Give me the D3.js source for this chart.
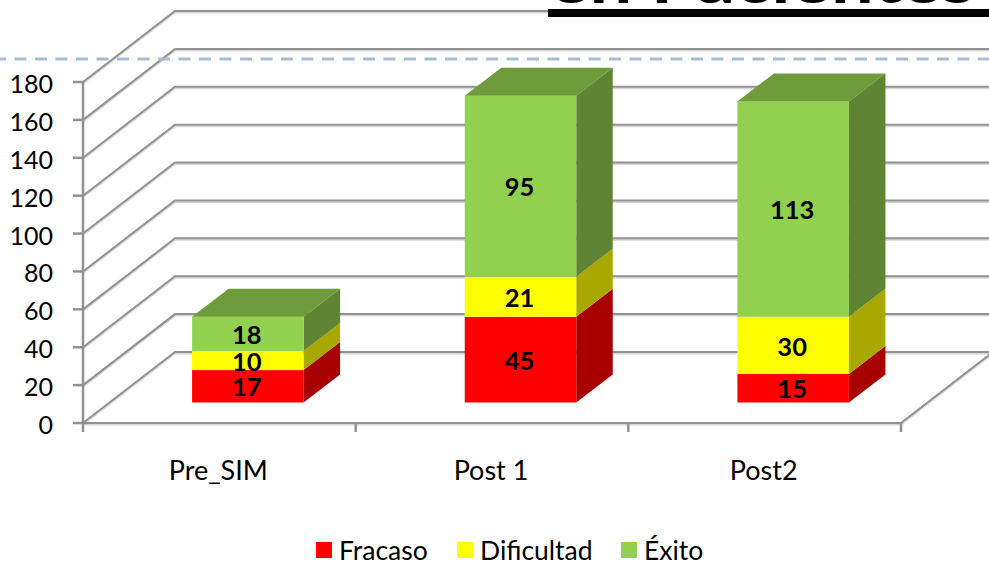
<!DOCTYPE html>
<html>
<head>
<meta charset="utf-8">
<style>
  html, body { margin: 0; padding: 0; background: #fff; overflow: hidden; }
  svg { display: block; }
  text { font-family: Lato, "Open Sans", sans-serif; fill: #000; }
</style>
<script src="https://cdn.jsdelivr.net/npm/d3@7/dist/d3.min.js"></script>
</head>
<body>
<script>
const categories = ["Pre_SIM", "Post 1", "Post2"]
const seriesNames = ["Fracaso", "Dificultad", "Éxito"]
const fracaso = [17, 45, 15]
const dificultad = [10, 21, 30]
const exito = [18, 95, 113]
const yTicks = [0, 20, 40, 60, 80, 100, 120, 140, 160, 180]

const frontColors = ["#ff0000", "#ffff00", "#92d050"]
const topColors = ["#cc0000", "#cccc00", "#6f9c3a"]
const sideColors = ["#a80000", "#a8a800", "#5f8433"]
const gridColor = "#929292"
const shadowColor = "#d8d8d8"

const width = 989, height = 561

const svg = d3.select("body").append("svg")
  .attr("width", width)
  .attr("height", height)
  .attr("viewBox", `0 0 ${width} ${height}`)

const x = d3.scaleBand().domain(categories).range([83, 901])
const y = d3.scaleLinear().domain([0, 180]).range([423, 82])
// bars stand a little inside the floor, so they get their own baseline
const barH = d3.scaleLinear().domain([0, 180]).range([402.5, 59.5])

// chart depth, floor corner to back wall
const wall = { dx: 92, dy: -71 }
// bar depth and the position of its front face on the floor
const depth = { dx: 36.5, dy: -28 }
const barW = 111.5, barShift = 28.5

// gridlines, floor and back wall, each with a soft shadow under it
function gridPath(d) {
  const p = d3.path()
  p.moveTo(83, y(d))
  p.lineTo(83 + wall.dx, y(d) + wall.dy)
  p.lineTo(width + 5, y(d) + wall.dy)
  return p.toString()
}
const floorPath = `M83,${y(0)}L901,${y(0)}L${901 + wall.dx},${y(0) + wall.dy}`

const gridShadow = svg.append("g")
  .attr("fill", "none")
  .attr("stroke", shadowColor)
  .attr("stroke-width", 2)
  .attr("transform", "translate(0,1.5)")
gridShadow.selectAll("path").data(yTicks).join("path").attr("d", gridPath)
gridShadow.append("path").attr("d", floorPath)

const grid = svg.append("g")
  .attr("fill", "none")
  .attr("stroke", gridColor)
  .attr("stroke-width", 2)
grid.selectAll("path").data(yTicks).join("path").attr("d", gridPath)
grid.append("path").attr("d", floorPath)

// title clipped by the slide edge, its bar hides the top gridline
svg.append("text")
  .attr("x", 549)
  .attr("y", 3)
  .attr("font-size", 62)
  .attr("font-weight", 700)
  .attr("textLength", 426)
  .attr("lengthAdjust", "spacingAndGlyphs")
  .text("en Pacientes")

svg.append("rect")
  .attr("x", 548).attr("y", 9)
  .attr("width", 441).attr("height", 8)
  .attr("fill", "#000")

// dashed slide line
svg.append("line")
  .attr("x1", 0).attr("x2", width)
  .attr("y1", 59).attr("y2", 59)
  .attr("stroke", "#a6bdd4")
  .attr("stroke-width", 3)
  .attr("stroke-dasharray", "12 8.5")
  .attr("stroke-dashoffset", 6)

// y axis
const axis = svg.append("g").attr("stroke", gridColor).attr("stroke-width", 2.5)

axis.append("line")
  .attr("x1", 83).attr("x2", 83)
  .attr("y1", y(180)).attr("y2", y(0) + 9)

axis.selectAll(".ytick")
  .data(yTicks)
  .join("line")
  .attr("class", "ytick")
  .attr("x1", 73).attr("x2", 83)
  .attr("y1", d => y(d)).attr("y2", d => y(d))

axis.selectAll(".xtick")
  .data(categories)
  .join("line")
  .attr("class", "xtick")
  .attr("x1", d => x(d) + x.bandwidth())
  .attr("x2", d => x(d) + x.bandwidth())
  .attr("y1", y(0)).attr("y2", y(0) + 9)

svg.selectAll(".ylabel")
  .data(yTicks)
  .join("text")
  .attr("class", "ylabel")
  .attr("x", 53)
  .attr("y", d => y(d) + 2)
  .attr("dy", "0.36em")
  .attr("text-anchor", "end")
  .attr("font-size", 25)
  .text(d => d)

svg.selectAll(".xlabel")
  .data(categories)
  .join("text")
  .attr("class", "xlabel")
  .attr("x", d => x(d) + x.bandwidth() / 2 - 1)
  .attr("y", 480)
  .attr("text-anchor", "middle")
  .attr("font-size", 27)
  .text(d => d)

// stacked bars
const rows = categories.map((c, i) => ({ c, f: fracaso[i], d: dificultad[i], e: exito[i] }))
const stacked = d3.stack().keys(["f", "d", "e"])(rows)

stacked.forEach((layer, s) => {
  const g = svg.append("g")
  layer.forEach(seg => {
    const left = x(seg.data.c) + x.bandwidth() / 2 - barW / 2 + barShift
    const right = left + barW
    const y0 = barH(seg[0]), y1 = barH(seg[1])

    g.append("path")
      .attr("fill", sideColors[s])
      .attr("d", `M${right},${y0}L${right + depth.dx},${y0 + depth.dy}L${right + depth.dx},${y1 + depth.dy}L${right},${y1}Z`)

    g.append("rect")
      .attr("x", left).attr("y", y1)
      .attr("width", barW).attr("height", y0 - y1)
      .attr("fill", frontColors[s])

    if (s === stacked.length - 1) {
      g.append("path")
        .attr("fill", topColors[s])
        .attr("d", `M${left},${y1}L${left + depth.dx},${y1 + depth.dy}L${right + depth.dx},${y1 + depth.dy}L${right},${y1}Z`)
    }
  })
})

// value labels go on top of every bar
stacked.forEach(layer => {
  layer.forEach(seg => {
    svg.append("text")
      .attr("x", x(seg.data.c) + x.bandwidth() / 2 + barShift - 1)
      .attr("y", (barH(seg[0]) + barH(seg[1])) / 2 + 1)
      .attr("dy", "0.36em")
      .attr("text-anchor", "middle")
      .attr("font-size", 25.5)
      .attr("font-weight", 700)
      .text(seg[1] - seg[0])
  })
})

// legend
const legendX = [316, 457, 621]
const legend = svg.selectAll(".legend")
  .data(seriesNames)
  .join("g")
  .attr("class", "legend")
  .attr("transform", (d, i) => `translate(${legendX[i]},542)`)

legend.append("rect")
  .attr("width", 16).attr("height", 16)
  .attr("fill", (d, i) => frontColors[i])

legend.append("text")
  .attr("x", 23)
  .attr("y", 8)
  .attr("dy", "0.36em")
  .attr("font-size", 26.5)
  .text(d => d)
</script>
</body>
</html>
